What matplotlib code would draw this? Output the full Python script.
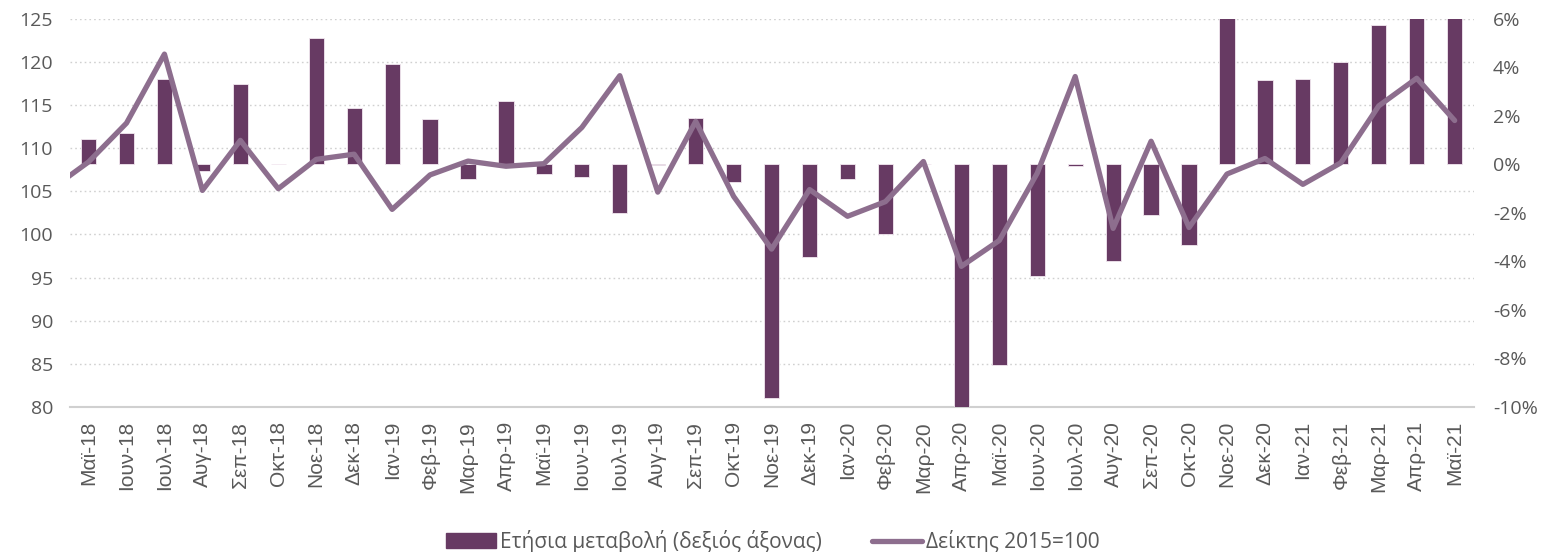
import numpy as np
import matplotlib
matplotlib.use("Agg")
import matplotlib.pyplot as plt
from matplotlib.ticker import MultipleLocator, FuncFormatter
from matplotlib.patches import Patch
from matplotlib.lines import Line2D

plt.rcParams["font.family"] = ["Open Sans", "DejaVu Sans"]

months = ["Μαϊ-18", "Ιουν-18", "Ιουλ-18", "Αυγ-18", "Σεπ-18", "Οκτ-18", "Νοε-18", "Δεκ-18",
          "Ιαν-19", "Φεβ-19", "Μαρ-19", "Απρ-19", "Μαϊ-19", "Ιουν-19", "Ιουλ-19", "Αυγ-19",
          "Σεπ-19", "Οκτ-19", "Νοε-19", "Δεκ-19", "Ιαν-20", "Φεβ-20", "Μαρ-20", "Απρ-20",
          "Μαϊ-20", "Ιουν-20", "Ιουλ-20", "Αυγ-20", "Σεπ-20", "Οκτ-20", "Νοε-20", "Δεκ-20",
          "Ιαν-21", "Φεβ-21", "Μαρ-21", "Απρ-21", "Μαϊ-21"]

# index 2015=100, left axis (index_prev = month before the visible range)
index_prev = 105.2
index_vals = [108.4, 112.9, 120.9, 105.1, 110.9, 105.3, 108.7, 109.3,
              102.9, 106.9, 108.5, 107.9, 108.2, 112.4, 118.4, 104.9,
              113.1, 104.4, 98.3, 105.2, 102.1, 103.8, 108.45, 96.3,
              99.3, 107.1, 118.3, 100.7, 110.8, 100.8, 107.0, 108.8,
              105.8, 108.3, 114.9, 118.1, 113.2]

# annual change in %, right axis
yoy = [1.03, 1.30, 3.5, -0.28, 3.3, 0.03, 5.22, 2.31,
       4.12, 1.87, -0.61, 2.62, -0.40, -0.51, -2.02, -0.03,
       1.9, -0.72, -9.65, -3.81, -0.62, -2.89, 0.03, -10.1,
       -8.25, -4.6, -0.06, -3.99, -2.09, -3.31, 8.9, 3.46,
       3.53, 4.22, 5.74, 22.6, 14.0]

bar_label = "Ετήσια μεταβολή (δεξιός άξονας)"
line_label = "Δείκτης 2015=100"

bar_c = "#673A63"
line_c = "#8D6E8E"
txt_c = "#595959"
grid_c = "#D0D0D0"

x = np.arange(len(months))

fig = plt.figure(figsize=(15.46, 5.52), dpi=100)
ax = fig.add_axes([0.045, 0.2627, 0.9082, 0.7034])
ax2 = ax.twinx()
ax3 = ax.twinx()

# left axis: grid + ticks
ax.set_ylim(80, 125)
ax.yaxis.set_major_locator(MultipleLocator(5))
ax.set_xlim(-0.5, len(months) - 0.5)
ax.grid(axis="y", color=grid_c, linestyle=(0, (1.2, 2.2)), linewidth=1.0)
ax.set_axisbelow(True)
ax.set_xticks(x)
ax.set_xticklabels(months, rotation=90, fontsize=15, color=txt_c,
                   family=["Liberation Sans", "DejaVu Sans"])
ax.tick_params(axis="y", labelsize=14, labelcolor=txt_c, length=0, pad=12)
ax.tick_params(axis="x", length=0, pad=10)
for s in ["top", "left", "right"]:
    ax.spines[s].set_visible(False)
ax.spines["bottom"].set_color(grid_c)
ax.spines["bottom"].set_linewidth(1.5)

# right axis: bars
ax2.bar(x, yoy, width=0.4, color=bar_c, edgecolor="#F2E8F0", linewidth=0.6)
ax2.set_ylim(-10, 6)
ax2.yaxis.set_major_locator(MultipleLocator(2))
ax2.yaxis.set_major_formatter(FuncFormatter(lambda v, p: f"{v:.0f}%"))
ax2.tick_params(axis="y", labelsize=14, labelcolor=txt_c, length=0, pad=14)
for s in ax2.spines.values():
    s.set_visible(False)

# line on top, same scale as left axis
xl = np.arange(-1, len(months))
ax3.plot(xl, [index_prev] + index_vals, color=line_c, linewidth=3.8,
         solid_joinstyle="round", solid_capstyle="round")
ax3.set_ylim(ax.get_ylim())
ax3.set_xlim(ax.get_xlim())
ax3.set_yticks([])
for s in ax3.spines.values():
    s.set_visible(False)

handles = [Patch(facecolor=bar_c, edgecolor=bar_c),
           Line2D([0], [0], color=line_c, linewidth=3.8, solid_capstyle="round")]
leg = fig.legend(handles, [bar_label, line_label], loc="center", ncol=2,
                 bbox_to_anchor=(0.5, 0.019), frameon=False, fontsize=15,
                 handlelength=2.4, handleheight=0.7, handletextpad=0.2,
                 columnspacing=2.4)
for t in leg.get_texts():
    t.set_color(txt_c)

fig.savefig("out.png", dpi=100)
